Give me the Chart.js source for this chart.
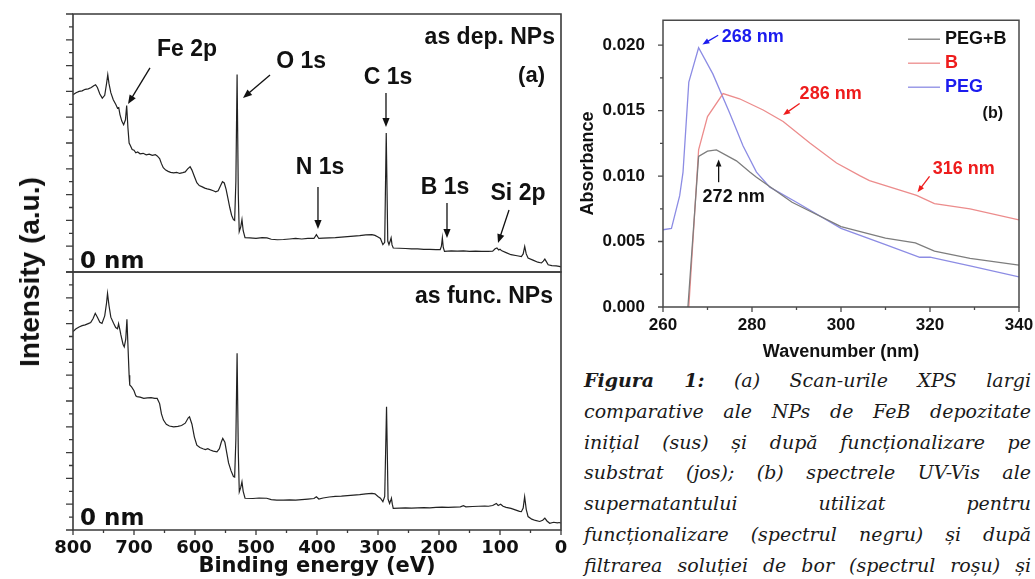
<!DOCTYPE html>
<html>
<head>
<meta charset="utf-8">
<script src="https://cdn.jsdelivr.net/npm/chart.js@4.4.0/dist/chart.umd.min.js"></script>
<style>
  html, body { margin: 0; padding: 0; background: #fff; }
  body { width: 1035px; height: 579px; position: relative; overflow: hidden; }
  canvas { position: absolute; }
  #xpsTop { left: 0; top: 0; }
  #xpsBottom { left: 0; top: 262px; }
  #uvChart { left: 575px; top: 0; }
  #yTitle {
    position: absolute; left: 30px; top: 272px;
    transform: translate(-50%, -50%) rotate(-90deg);
    font: bold 28px "Liberation Sans", Arial, sans-serif;
    white-space: nowrap; color: #111;
  }
  #caption {
    position: absolute; left: 584px; top: 365px; width: 447px;
    font: italic 19px "DejaVu Serif", serif; line-height: 30.8px; color: #1a1a1a;
  }
  #caption div { text-align: justify; text-align-last: justify; white-space: nowrap; }
</style>
</head>
<body>
<canvas id="xpsTop" width="575" height="285"></canvas>
<canvas id="xpsBottom" width="575" height="317"></canvas>
<canvas id="uvChart" width="460" height="365"></canvas>
<div id="yTitle">Intensity (a.u.)</div>
<div id="caption">
  <div><b>Figura 1:</b> (a) Scan-urile XPS largi</div>
  <div>comparative ale NPs de FeB depozitate</div>
  <div>inițial (sus) și după funcționalizare pe</div>
  <div>substrat (jos); (b) spectrele UV-Vis ale</div>
  <div>supernatantului utilizat pentru</div>
  <div>funcționalizare (spectrul negru) și după</div>
  <div>filtrarea soluției de bor (spectrul roșu) și</div>
</div>
<script>
// (a) XPS survey, as deposited NPs (top)
const topEnergy = [800, 795, 790, 785, 780, 775, 770, 766, 763, 760, 756, 752, 748, 745, 743, 741, 738, 734, 730, 727, 725, 723, 720, 717, 714, 712, 710, 708, 706, 703, 700, 697, 694, 690, 685, 680, 675, 670, 665, 662, 658, 655, 652, 648, 644, 640, 635, 630, 625, 620, 616, 612, 608, 605, 601, 597, 593, 588, 584, 580, 575, 570, 566, 562, 558, 555, 552, 549, 546, 543, 540, 537, 535, 533, 531, 529, 527.5, 525, 523, 521, 518, 510, 500, 490, 482, 475, 465, 455, 445, 435, 425, 415, 405, 401, 397, 390, 380, 370, 360, 350, 340, 330, 320, 310, 305, 300, 296, 292, 289, 286.5, 284, 282, 280, 278.5, 277, 275, 265, 255, 245, 235, 225, 215, 205, 198, 196, 194.5, 193, 191, 180, 170, 160, 150, 140, 130, 120, 112, 108, 105, 102, 100, 97, 90, 82, 72, 65, 62, 59.5, 57, 54, 45, 38, 32, 29, 26.5, 24, 21, 15, 8, 3, 0];
const topCounts = [6.87, 6.95, 7.0, 7.02, 7.08, 7.1, 7.15, 7.22, 7.26, 7.15, 6.9, 6.74, 6.85, 7.3, 7.65, 7.3, 6.95, 6.68, 6.5, 6.35, 6.37, 6.1, 5.85, 5.71, 5.9, 6.45, 5.6, 5.0, 4.9, 4.75, 4.72, 4.62, 4.65, 4.58, 4.6, 4.54, 4.57, 4.52, 4.55, 4.5, 4.4, 4.2, 4.04, 3.95, 3.9, 3.86, 3.84, 3.86, 3.82, 3.85, 3.88, 4.0, 4.08, 3.95, 3.7, 3.46, 3.35, 3.3, 3.25, 3.22, 3.19, 3.15, 3.11, 3.15, 3.35, 3.5, 3.45, 3.2, 2.85, 2.5, 2.2, 2.03, 2.0, 3.5, 7.65, 3.0, 1.57, 1.75, 2.03, 1.6, 1.33, 1.32, 1.3, 1.33, 1.32, 1.27, 1.25, 1.26, 1.28, 1.3, 1.28, 1.3, 1.3, 1.45, 1.3, 1.31, 1.32, 1.33, 1.35, 1.37, 1.39, 1.41, 1.44, 1.45, 1.42, 1.36, 1.3, 1.06, 1.15, 5.39, 1.2, 1.06, 1.2, 1.32, 1.05, 0.93, 0.92, 0.91, 0.9, 0.9, 0.88, 0.88, 0.87, 0.87, 1.0, 1.32, 0.95, 0.8, 0.82, 0.81, 0.82, 0.8, 0.81, 0.8, 0.8, 0.81, 0.9, 0.93, 0.85, 0.88, 0.82, 0.75, 0.67, 0.63, 0.6, 0.7, 0.99, 0.7, 0.54, 0.45, 0.38, 0.35, 0.42, 0.5, 0.4, 0.28, 0.25, 0.24, 0.22, 0.2];

// (a) XPS survey, functionalised NPs (bottom)
const botEnergy = [800, 795, 790, 785, 780, 775, 771, 767, 763.5, 760, 756, 752.5, 748, 745, 743.4, 741, 738, 733.5, 730, 727, 725.3, 723, 721.5, 718, 716, 713.5, 711.6, 710, 708, 707, 704, 700, 697, 695, 690, 684, 678, 672, 666, 662, 658, 655, 651.7, 647, 642, 635, 628, 622, 616, 611, 609, 605, 601, 597, 592, 587, 583, 579, 575, 570, 564, 560, 557, 554.5, 551, 548, 545, 541, 537, 535, 533, 531, 529, 527.4, 525, 523, 521, 518, 505, 495, 482.5, 475, 466, 455, 445, 435, 425, 415, 405, 401, 397, 390, 380, 370, 360, 350, 340, 330, 320, 310, 305, 300, 296, 292, 289, 286, 283.5, 281, 279, 278, 276.5, 275, 265, 255, 245, 235, 225, 215, 205, 195, 185, 175, 165, 160, 156, 145, 135, 125, 119, 112, 106, 103, 99, 95, 90, 82, 75, 68, 65, 62, 59.6, 57, 54, 48, 42, 35, 30, 26.5, 23, 18.5, 12, 6, 3, 0];
const botCounts = [7.69, 7.8, 7.87, 7.92, 7.95, 8.0, 8.04, 8.2, 8.4, 8.25, 8.05, 8.01, 8.3, 8.8, 9.17, 8.7, 8.25, 8.01, 7.85, 7.8, 8.0, 7.75, 7.56, 7.2, 7.1, 7.4, 8.17, 7.2, 6.0, 5.62, 5.55, 5.4, 5.2, 5.17, 5.15, 5.1, 5.12, 5.13, 5.1, 5.1, 4.9, 4.5, 4.26, 4.1, 4.03, 4.0, 4.02, 4.05, 4.14, 4.35, 4.39, 4.1, 3.6, 3.29, 3.2, 3.15, 3.12, 3.15, 3.1, 3.06, 3.03, 3.15, 3.4, 3.55, 3.4, 3.0, 2.6, 2.3, 2.07, 2.05, 3.5, 6.85, 3.0, 1.48, 1.65, 1.87, 1.5, 1.23, 1.22, 1.24, 1.23, 1.18, 1.16, 1.16, 1.17, 1.16, 1.18, 1.2, 1.22, 1.29, 1.2, 1.24, 1.28, 1.3, 1.31, 1.33, 1.35, 1.37, 1.4, 1.42, 1.4, 1.3, 1.23, 1.1, 1.3, 4.78, 1.2, 1.03, 1.15, 1.23, 1.0, 0.84, 0.85, 0.86, 0.85, 0.86, 0.87, 0.86, 0.88, 0.89, 0.88, 0.89, 0.9, 0.94, 0.9, 0.91, 0.92, 0.93, 0.92, 0.95, 1.03, 0.95, 1.0, 0.92, 0.88, 0.84, 0.78, 0.72, 0.71, 0.85, 1.29, 0.8, 0.52, 0.42, 0.37, 0.33, 0.38, 0.46, 0.35, 0.26, 0.3, 0.28, 0.29, 0.27];

const xpsTicks = [800, 700, 600, 500, 400, 300, 200, 100, 0];
const xpsMinorTicks = [750, 650, 550, 450, 350, 250, 150, 50];
const intensityTicks = [0, 1, 2, 3, 4, 5, 6, 7, 8, 9, 10];
const intensityMinor = [0.5, 1.5, 2.5, 3.5, 4.5, 5.5, 6.5, 7.5, 8.5, 9.5];

// (b) UV-Vis spectra
const uvLabels = ['PEG+B', 'B', 'PEG'];
const pegbWave = [265.6, 268, 270, 272, 276.5, 279.5, 281, 289, 300, 310, 316.7, 321, 329, 340];
const pegbAbs = [0, 0.0115, 0.0119, 0.0120, 0.01116, 0.0103, 0.0099, 0.0080, 0.00614, 0.00526, 0.00489, 0.00426, 0.00371, 0.0032];
const boronWave = [265.8, 268, 270, 273.5, 277.2, 282.5, 287, 293, 299, 304.2, 306.4, 317, 321, 329, 340];
const boronAbs = [0, 0.012, 0.01454, 0.0163, 0.0159, 0.01504, 0.01417, 0.01253, 0.011, 0.01003, 0.00965, 0.00853, 0.0079, 0.0075, 0.00665];
const pegWave = [260, 261.9, 263.75, 264.5, 265.8, 268, 271.2, 275, 278, 281, 284, 290, 300, 310, 317.7, 320, 329, 340];
const pegAbs = [0.0059, 0.006, 0.0085, 0.0103, 0.01717, 0.0198, 0.0178, 0.0148, 0.0123, 0.0103, 0.00915, 0.0080, 0.0060, 0.00477, 0.0038, 0.0038, 0.00314, 0.0023];

const uvXTicks = [260, 280, 300, 320, 340];
const uvXMinor = [270, 290, 310, 330];
const uvYTicks = [0, 0.005, 0.010, 0.015, 0.020];
const uvYMinor = [0.0025, 0.0075, 0.0125, 0.0175];

const toPoints = (xs, ys) => xs.map((x, i) => ({ x: x, y: ys[i] }));
const sans = '"Liberation Sans", Arial, sans-serif';
const boldSans = size => `bold ${size}px ${sans}`;
const redText = '#ee1c1c';
const blueText = '#1c1cee';

// per-canvas decoration: frame, outward ticks, peak labels, panel labels, legend
const xpsLabelFont = boldSans(23);
const nmFont = 'bold 23px "DejaVu Sans", Verdana, sans-serif';
const decor = {
    xpsTop: {
        frame: { stroke: '#3a3a3a', lw: 1.6, y: [intensityTicks, intensityMinor, 7, 4] },
        font: xpsLabelFont, head: 9,
        labels: [
            { text: 'Fe 2p', x: 613, y: 8.6 },
            { text: 'O 1s', x: 426, y: 8.14 },
            { text: 'C 1s', x: 283.6, y: 7.52 },
            { text: 'N 1s', x: 395, y: 4.03 },
            { text: 'B 1s', x: 190.2, y: 3.26 },
            { text: 'Si 2p', x: 70.5, y: 3.02 }
        ],
        arrows: [
            { from: [673.8, 7.91], to: [709.8, 6.51] },
            { from: [477, 7.64], to: [521.3, 6.74] },
            { from: [286.9, 6.94], to: [286.9, 5.62] },
            { from: [398.4, 3.29], to: [398.4, 1.67] },
            { from: [186.9, 2.67], to: [186.9, 1.32] },
            { from: [85.2, 2.4], to: [103.3, 1.12] }
        ],
        panel: [
            { text: 'as dep. NPs', align: 'right', dx: 6, dy: 24, font: xpsLabelFont },
            { text: '(a)', align: 'right', dx: 16, dy: 62, font: boldSans(22) },
            { text: '0 nm', align: 'left', dx: 7, dy: 10, fromBottom: true, font: nmFont }
        ]
    },
    xpsBottom: {
        frame: { stroke: '#3a3a3a', lw: 1.6, y: [intensityTicks, intensityMinor, 7, 4], x: [xpsTicks, xpsMinorTicks, 5, 3] },
        panel: [
            { text: 'as func. NPs', align: 'right', dx: 8, dy: 25, font: xpsLabelFont },
            { text: '0 nm', align: 'left', dx: 7, dy: 11, fromBottom: true, font: nmFont }
        ]
    },
    uvChart: {
        frame: { stroke: '#4a4a4a', lw: 1.5, y: [uvYTicks, uvYMinor, 5, 3], x: [uvXTicks, uvXMinor, 5, 3] },
        font: boldSans(18), head: 7,
        labels: [
            { text: '268 nm', x: 273.2, y: 0.02058, color: blueText, align: 'left' },
            { text: '286 nm', x: 290.7, y: 0.01629, color: redText, align: 'left' },
            { text: '316 nm', x: 320.6, y: 0.01053, color: redText, align: 'left' },
            { text: '272 nm', x: 268.9, y: 0.0084, color: '#111', align: 'left' }
        ],
        arrows: [
            { from: [272.4, 0.02075], to: [268.85, 0.02005], color: blueText },
            { from: [290.7, 0.01554], to: [287, 0.01466], color: redText },
            { from: [319.9, 0.00998], to: [317.2, 0.00877], color: redText },
            { from: [272.5, 0.00953], to: [272.5, 0.01126], color: '#111' }
        ],
        panel: [
            { text: '(b)', align: 'right', dx: 16, dy: 93, font: boldSans(16) }
        ],
        legend: { dx: 111, dy: 19, gap: 24, len: 32, font: boldSans(18) }
    }
};

function drawArrow(ctx, x1, y1, x2, y2, color, head) {
    const ang = Math.atan2(y2 - y1, x2 - x1);
    const c = Math.cos(ang), s = Math.sin(ang);
    ctx.strokeStyle = color;
    ctx.fillStyle = color;
    ctx.lineWidth = 1.3;
    ctx.beginPath();
    ctx.moveTo(x1, y1);
    ctx.lineTo(x2 - c * head * 0.6, y2 - s * head * 0.6);
    ctx.stroke();
    ctx.beginPath();
    ctx.moveTo(x2, y2);
    ctx.lineTo(x2 - head * c + head * 0.4 * s, y2 - head * s - head * 0.4 * c);
    ctx.lineTo(x2 - head * c - head * 0.4 * s, y2 - head * s + head * 0.4 * c);
    ctx.closePath();
    ctx.fill();
}

const decorPlugin = {
    id: 'decor',
    afterDraw(chart) {
        const d = decor[chart.canvas.id];
        if (!d) return;
        const ctx = chart.ctx;
        const a = chart.chartArea;
        const sx = chart.scales.x, sy = chart.scales.y;
        ctx.save();

        // box round the plot area
        const f = d.frame;
        ctx.strokeStyle = f.stroke;
        ctx.lineWidth = f.lw;
        ctx.beginPath();
        ctx.moveTo(a.left, a.top);
        ctx.lineTo(a.right, a.top);
        ctx.lineTo(a.right, a.bottom);
        ctx.lineTo(a.left, a.bottom);
        ctx.closePath();
        ctx.stroke();

        // outward tick marks
        ctx.lineWidth = 1.3;
        ctx.beginPath();
        if (f.y) {
            const [majY, minY, lenY, shortY] = f.y;
            majY.forEach(v => { const p = sy.getPixelForValue(v); ctx.moveTo(a.left, p); ctx.lineTo(a.left - lenY, p); });
            minY.forEach(v => { const p = sy.getPixelForValue(v); ctx.moveTo(a.left, p); ctx.lineTo(a.left - shortY, p); });
        }
        if (f.x) {
            const [majX, minX, lenX, shortX] = f.x;
            majX.forEach(v => { const p = sx.getPixelForValue(v); ctx.moveTo(p, a.bottom); ctx.lineTo(p, a.bottom + lenX); });
            minX.forEach(v => { const p = sx.getPixelForValue(v); ctx.moveTo(p, a.bottom); ctx.lineTo(p, a.bottom + shortX); });
        }
        ctx.stroke();

        ctx.textBaseline = 'middle';
        (d.arrows || []).forEach(ar => {
            drawArrow(ctx, sx.getPixelForValue(ar.from[0]), sy.getPixelForValue(ar.from[1]),
                sx.getPixelForValue(ar.to[0]), sy.getPixelForValue(ar.to[1]), ar.color || '#111', d.head);
        });
        (d.labels || []).forEach(l => {
            ctx.font = d.font;
            ctx.fillStyle = l.color || '#111';
            ctx.textAlign = l.align || 'center';
            ctx.fillText(l.text, sx.getPixelForValue(l.x), sy.getPixelForValue(l.y));
        });
        (d.panel || []).forEach(p => {
            ctx.font = p.font;
            ctx.fillStyle = '#111';
            ctx.textAlign = p.align;
            const x = p.align === 'right' ? a.right - p.dx : a.left + p.dx;
            const y = p.fromBottom ? a.bottom - p.dy : a.top + p.dy;
            ctx.fillText(p.text, x, y);
        });
        if (d.legend) {
            const lg = d.legend;
            chart.data.datasets.forEach((ds, i) => {
                const y = a.top + lg.dy + i * lg.gap;
                ctx.strokeStyle = ds.borderColor;
                ctx.lineWidth = ds.borderWidth;
                ctx.beginPath();
                ctx.moveTo(a.right - lg.dx, y);
                ctx.lineTo(a.right - lg.dx + lg.len, y);
                ctx.stroke();
                ctx.font = lg.font;
                ctx.fillStyle = ds.labelColor;
                ctx.textAlign = 'left';
                ctx.fillText(ds.label, a.right - lg.dx + lg.len + 5, y);
            });
        }
        ctx.restore();
    }
};

Chart.register(decorPlugin);

function xpsOptions(isBottom) {
    const x = {
        type: 'linear', min: 0, max: 800, reverse: true,
        display: isBottom,
        grid: { display: false },
        border: { display: false },
        afterBuildTicks: s => { s.ticks = xpsTicks.map(v => ({ value: v })); },
        ticks: {
            font: { family: '"DejaVu Sans", Verdana, sans-serif', weight: 'bold', size: 18 },
            color: '#111', padding: 0, maxRotation: 0, autoSkip: false
        },
        title: {
            display: true, text: 'Binding energy (eV)', color: '#111',
            font: { family: '"DejaVu Sans", Verdana, sans-serif', weight: 'bold', size: 21 },
            padding: { top: 0, bottom: 0 }
        }
    };
    if (isBottom) x.afterFit = s => { s.height = 49; };
    return {
        responsive: false,
        animation: false,
        events: [],
        layout: { padding: isBottom ? { top: 10, right: 14, bottom: 0, left: 0 } : { top: 14, right: 14, bottom: 13, left: 0 } },
        plugins: { legend: { display: false }, tooltip: { enabled: false } },
        scales: {
            x: x,
            y: {
                min: 0, max: 10,
                ticks: { display: false },
                grid: { display: false },
                border: { display: false },
                afterFit: s => { s.width = 73; }
            }
        }
    };
}

new Chart(document.getElementById('xpsTop').getContext('2d'), {
    type: 'line',
    data: {
        datasets: [{
            label: 'as dep. NPs',
            data: toPoints(topEnergy, topCounts),
            borderColor: '#222', borderWidth: 1.2, pointRadius: 0, tension: 0
        }]
    },
    options: xpsOptions(false)
});

new Chart(document.getElementById('xpsBottom').getContext('2d'), {
    type: 'line',
    data: {
        datasets: [{
            label: 'as func. NPs',
            data: toPoints(botEnergy, botCounts),
            borderColor: '#222', borderWidth: 1.2, pointRadius: 0, tension: 0
        }]
    },
    options: xpsOptions(true)
});

const blackLine = 'rgb(125,125,125)';
const redLine = 'rgb(236,140,140)';
const blueLine = 'rgb(140,140,228)';

new Chart(document.getElementById('uvChart').getContext('2d'), {
    type: 'line',
    data: {
        datasets: [
            { label: uvLabels[0], data: toPoints(pegbWave, pegbAbs), borderColor: blackLine, labelColor: '#111', borderWidth: 1.3, pointRadius: 0, tension: 0 },
            { label: uvLabels[1], data: toPoints(boronWave, boronAbs), borderColor: redLine, labelColor: redText, borderWidth: 1.3, pointRadius: 0, tension: 0 },
            { label: uvLabels[2], data: toPoints(pegWave, pegAbs), borderColor: blueLine, labelColor: blueText, borderWidth: 1.3, pointRadius: 0, tension: 0 }
        ]
    },
    options: {
        responsive: false,
        animation: false,
        events: [],
        layout: { padding: { top: 15, right: 16, bottom: 0, left: 0 } },
        plugins: { legend: { display: false }, tooltip: { enabled: false } },
        scales: {
            x: {
                type: 'linear', min: 260, max: 340,
                grid: { display: false },
                border: { display: false },
                afterBuildTicks: s => { s.ticks = uvXTicks.map(v => ({ value: v })); },
                ticks: { font: { family: sans, weight: 'bold', size: 17 }, color: '#111', padding: 0, maxRotation: 0, autoSkip: false },
                title: { display: true, text: 'Wavenumber (nm)', color: '#111', font: { family: sans, weight: 'bold', size: 18 }, padding: { top: 0, bottom: 2 } },
                afterFit: s => { s.height = 58; }
            },
            y: {
                min: 0, max: 0.0219,
                grid: { display: false },
                border: { display: false },
                afterBuildTicks: s => { s.ticks = uvYTicks.map(v => ({ value: v })); },
                ticks: { font: { family: sans, weight: 'bold', size: 17 }, color: '#111', padding: 10, callback: v => v.toFixed(3) },
                title: { display: true, text: 'Absorbance', color: '#111', font: { family: sans, weight: 'bold', size: 18 }, padding: { top: 2, bottom: 0 } },
                afterFit: s => { s.width = 88; }
            }
        }
    }
});
</script>
</body>
</html>
